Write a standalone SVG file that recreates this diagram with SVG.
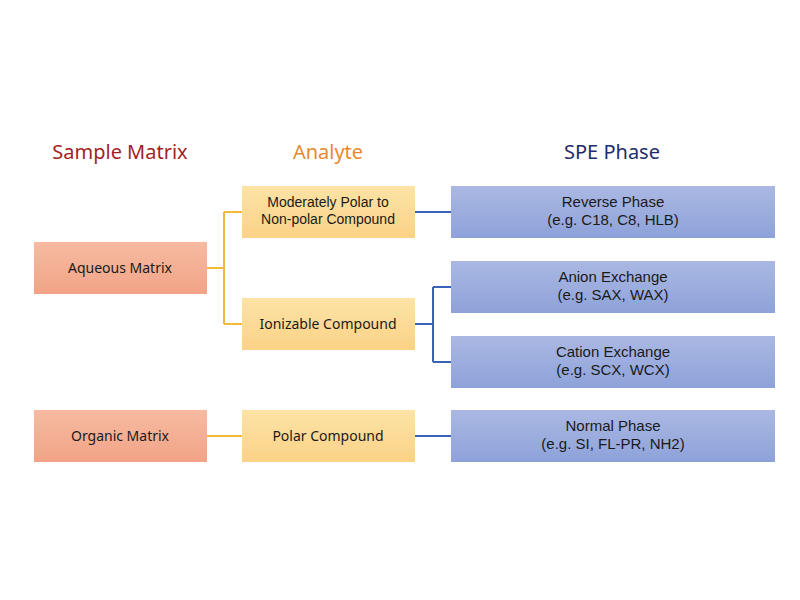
<svg xmlns="http://www.w3.org/2000/svg" width="800" height="600" viewBox="0 0 800 600">
<defs>
<linearGradient id="gr" x1="0" y1="0" x2="0" y2="1"><stop offset="0" stop-color="#f6bba2"/><stop offset="1" stop-color="#f2a386"/></linearGradient>
<linearGradient id="gy" x1="0" y1="0" x2="0" y2="1"><stop offset="0" stop-color="#fde3a6"/><stop offset="1" stop-color="#fbd286"/></linearGradient>
<linearGradient id="gb" x1="0" y1="0" x2="0" y2="1"><stop offset="0" stop-color="#aab8e2"/><stop offset="1" stop-color="#8ea2da"/></linearGradient>
</defs>
<style>
text{font-family:"Noto Sans","Open Sans",sans-serif;text-anchor:middle;font-size:14px;fill:#1a1a1a}
.h{font-size:20px}
.t{font-family:"Liberation Sans",Arial,sans-serif}
.s{font-family:"Liberation Sans",Arial,sans-serif;font-size:15px}
.r{fill:url(#gr)}.y{fill:url(#gy)}.b{fill:url(#gb)}
.cy{stroke:#f3b93a;stroke-width:2;fill:none}
.cb{stroke:#3a63b8;stroke-width:2;fill:none}
</style>
<rect width="800" height="600" fill="#fff"/>
<text class="h" x="120" y="159" style="fill:#a31f24">Sample Matrix</text>
<text class="h" x="328" y="159" style="fill:#e8892f">Analyte</text>
<text class="h" x="612" y="159" style="fill:#1f2d6b">SPE Phase</text>
<g id="connectors">
<path class="cy" d="M207 268H224M224 212V324M224 212H242M224 324H242M207 436H242"/>
<path class="cb" d="M415 212H451M415 324H433M433 287V362M433 287H451M433 362H451M415 436H451"/>
</g>
<g id="aqueous"><rect class="r" x="34" y="242" width="173" height="52"/><text x="120" y="273">Aqueous Matrix</text></g>
<g id="organic"><rect class="r" x="34" y="410" width="173" height="52"/><text x="120" y="441">Organic Matrix</text></g>
<g id="nonpolar"><rect class="y" x="242" y="186" width="173" height="52"/><text class="t" x="328" y="207">Moderately Polar to</text><text class="t" x="328" y="224">Non-polar Compound</text></g>
<g id="ionizable"><rect class="y" x="242" y="298" width="173" height="52"/><text x="328" y="329">Ionizable Compound</text></g>
<g id="polar"><rect class="y" x="242" y="410" width="173" height="52"/><text x="328" y="441">Polar Compound</text></g>
<g id="reverse"><rect class="b" x="451" y="186" width="324" height="52"/><text class="s" x="613" y="207">Reverse Phase</text><text class="s" x="613" y="225">(e.g. C18, C8, HLB)</text></g>
<g id="anion"><rect class="b" x="451" y="261" width="324" height="52"/><text class="s" x="613" y="282">Anion Exchange</text><text class="s" x="613" y="300">(e.g. SAX, WAX)</text></g>
<g id="cation"><rect class="b" x="451" y="336" width="324" height="52"/><text class="s" x="613" y="357">Cation Exchange</text><text class="s" x="613" y="375">(e.g. SCX, WCX)</text></g>
<g id="normal"><rect class="b" x="451" y="410" width="324" height="52"/><text class="s" x="613" y="431">Normal Phase</text><text class="s" x="613" y="449">(e.g. SI, FL-PR, NH2)</text></g>
</svg>
